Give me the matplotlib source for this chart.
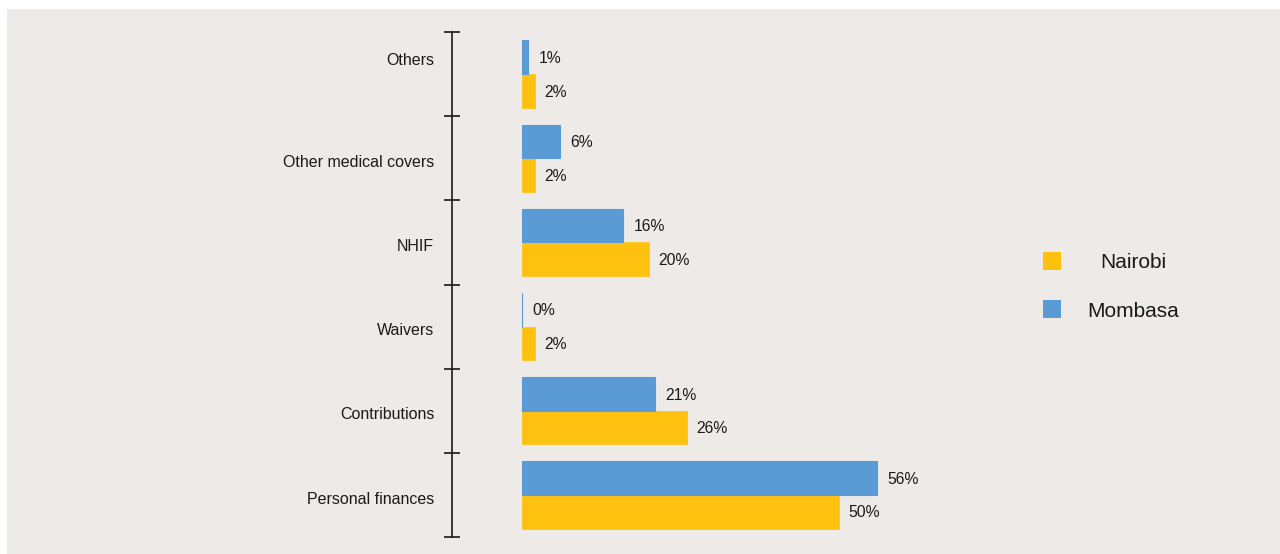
import matplotlib
matplotlib.use("Agg")
import matplotlib.pyplot as plt
import matplotlib.transforms as mtransforms
from matplotlib.patches import Rectangle
import numpy as np

plt.rcParams['font.family'] = ['Liberation Sans', 'DejaVu Sans']

categories = ['Personal finances', 'Contributions', 'Waivers', 'NHIF',
              'Other medical covers', 'Others']
nairobi = [50, 26, 2, 20, 2, 2]
mombasa = [56, 21, 0, 16, 6, 1]
series_names = ['Nairobi', 'Mombasa']

BG = '#EDEAE7'
YELLOW = '#FEC10F'
BLUE = '#5B9BD5'
INK = '#1A1A1A'

fig = plt.figure(figsize=(12.8, 5.54), dpi=100)
fig.patch.set_facecolor('white')
fig.add_artist(Rectangle((7 / 1280, 0), 1, 1 - 9 / 554, transform=fig.transFigure,
                         facecolor=BG, edgecolor='none', zorder=-10))

ax = fig.add_axes([452 / 1280, 17 / 554, 1 - 452 / 1280, 505 / 554])
ax.set_facecolor('none')

y = np.arange(len(categories))
h = 0.4
ax.barh(y - h / 2, nairobi, height=h, color=YELLOW, edgecolor=YELLOW, linewidth=0.5)
ax.barh(y + h / 2, mombasa, height=h, color=BLUE, edgecolor=BLUE, linewidth=0.8)

for yy, v in zip(y - h / 2, nairobi):
    ax.annotate(f'{v}%', (v, yy), xytext=(7, -0.8), textcoords='offset points',
                va='center', ha='left', fontsize=11.3, color=INK)
for yy, v in zip(y + h / 2, mombasa):
    ax.annotate(f'{v}%', (v, yy), xytext=(7.5, -0.8), textcoords='offset points',
                va='center', ha='left', fontsize=11.3, color=INK)

# 0 sits 70px right of the axis line; 56 ends 355px further on
px = 355 / 56
ax.set_xlim(-70 / px, (1280 - 522) / px)
ax.set_ylim(-0.5, len(categories) - 0.5)

for s in ['top', 'right', 'bottom']:
    ax.spines[s].set_visible(False)
ax.spines['left'].set_color(INK)
ax.spines['left'].set_linewidth(1.2)
ax.set_xticks([])
ax.set_yticks(np.arange(len(categories) + 1) - 0.5)
ax.set_yticklabels([])
ax.tick_params(axis='y', direction='inout', length=11, width=1.2, color=INK)

# category names, right-aligned against the axis
ytr = ax.get_yaxis_transform()
for i, name in enumerate(categories):
    dy = 10 if name == 'Others' else -3
    tr = ytr + mtransforms.ScaledTranslation(-12.7 / 72, dy / 72, fig.dpi_scale_trans)
    ax.text(0, i, name, transform=tr, ha='right', va='center',
            fontsize=11.5, color=INK)

# legend: colour square with centred name
for k, (name, col) in enumerate(zip(series_names, [YELLOW, BLUE])):
    top = 252 + 48 * k
    fig.add_artist(Rectangle((1043 / 1280, 1 - (top + 18) / 554), 18 / 1280, 18 / 554,
                             transform=fig.transFigure, facecolor=col, edgecolor='none'))
    fig.text(1133.5 / 1280, 1 - (top + 10 + 1.5 * k) / 554, name, ha='center',
             va='center', fontsize=15, color=INK)

fig.savefig('out.png', dpi=100, facecolor=fig.get_facecolor())
